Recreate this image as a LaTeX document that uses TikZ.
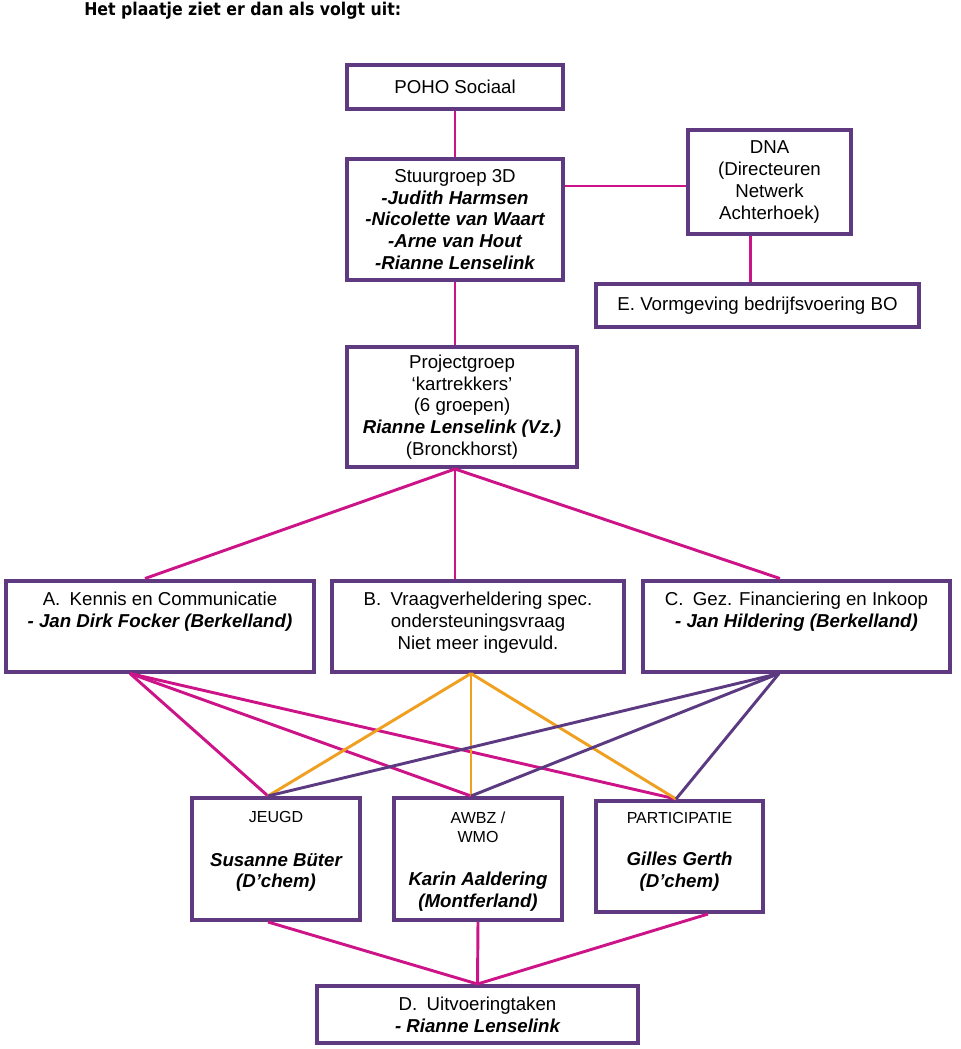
\documentclass[tikz,border=0pt]{standalone}
\usepackage{fontspec}
\usepackage{graphicx}
\setmainfont{Liberation Sans}
\newfontfamily\titlefont{DejaVu Sans}
\definecolor{boxpurple}{RGB}{96,58,128}
\definecolor{linemag}{RGB}{204,20,136}
\definecolor{lineorange}{RGB}{240,160,32}
\definecolor{linepurple}{RGB}{92,58,130}
\newcommand{\ctext}[3]{\parbox[c][#2][c]{#1}{\centering #3}}
\newcommand{\ttext}[4]{\parbox[c][#2][t]{#1}{\centering\vspace*{#3}\strut #4}}
\newcommand{\bi}[1]{{\bfseries\itshape #1}}
\newcommand{\smalltxt}[1]{{\fontsize{12}{14}\selectfont #1}}
\begin{document}
\begin{tikzpicture}[x=0.75pt,y=-0.75pt,
  box/.style={draw=boxpurple, line width=3pt, inner sep=0pt, fill=white,
              font=\fontsize{14}{16.3}\selectfont},
  mag/.style={draw=linemag, line width=2.2pt},
  org/.style={draw=lineorange, line width=2.2pt},
  pur/.style={draw=linepurple, line width=2.2pt}]
\useasboundingbox (0,0) rectangle (960,1049);
\node[anchor=base west, inner sep=0pt, font=\titlefont\bfseries\fontsize{13.2}{15}\selectfont] (title) at (84,15.7) {\scalebox{0.895}[1]{Het plaatje ziet er dan als volgt uit:}};

% boxes
\node[box] (poho) at (455,87) {\ctext{162pt}{33pt}{POHO Sociaal}};
\node[box] (stuur) at (455,219.5) {\ctext{162pt}{90.75pt}{Stuurgroep 3D\\ \bi{-Judith Harmsen}\\ \bi{-Nicolette van Waart}\\ \bi{-Arne van Hout}\\ \bi{-Rianne Lenselink}}};
\node[box] (dna) at (769.5,182) {\ctext{122.25pt}{78pt}{DNA\\ (Directeuren\\ Netwerk\\ Achterhoek)}};
\node[box] (evorm) at (757.5,305.5) {\ctext{242.25pt}{32.25pt}{E. Vormgeving bedrijfsvoering BO}};
\node[box] (proj) at (462,407) {\ctext{172.5pt}{90pt}{Projectgroep\\ ‘kartrekkers’\\ (6 groepen)\\ \bi{Rianne Lenselink (Vz.)}\\ (Bronckhorst)}};
\node[box] (A) at (160,626) {\ttext{231pt}{68.25pt}{7.6pt}{A.\enspace Kennis en Communicatie\\ \bi{- Jan Dirk Focker (Berkelland)}}};
\node[box] (B) at (478,626) {\ttext{219pt}{68.25pt}{7.6pt}{B.\enspace Vraagverheldering spec.\\ ondersteuningsvraag\\ Niet meer ingevuld.}};
\node[box] (C) at (796.5,626) {\ttext{230.25pt}{68.25pt}{7.6pt}{C.\enspace Gez. Financiering en Inkoop\\ \bi{- Jan Hildering (Berkelland)}}};
\node[box] (jeugd) at (276,859) {\ttext{126pt}{91.5pt}{7.1pt}{\smalltxt{JEUGD}\\[16.2pt] \bi{Susanne Büter}\\ \bi{(D’chem)}}};
\node[box] (awbz) at (478,859) {\ttext{126pt}{91.5pt}{7.35pt}{\smalltxt{AWBZ /}\\[-1.6pt] \smalltxt{WMO}\\[15.7pt] \bi{Karin Aaldering}\\ \bi{(Montferland)}}};
\node[box] (part) at (679.5,856.5) {\ttext{125.25pt}{83.25pt}{5.3pt}{\smalltxt{PARTICIPATIE}\\[15.5pt] \bi{Gilles Gerth}\\ \bi{(D’chem)}}};
\node[box] (D) at (477.5,1014.5) {\ctext{240.75pt}{42.75pt}{D.\enspace Uitvoeringtaken\\ \bi{- Rianne Lenselink}}};

% connection points
\coordinate (projS) at ([xshift=-5.25pt]proj.south);
\coordinate (aN) at ([xshift=-11.25pt]A.north);
\coordinate (bN) at ([xshift=-17.25pt]B.north);
\coordinate (cN) at ([xshift=-12.4pt]C.north);
\coordinate (aS) at ([xshift=-22.5pt]A.south);
\coordinate (bS) at ([xshift=-5.25pt]B.south);
\coordinate (cS) at ([xshift=-13.1pt]C.south);
\coordinate (jN) at ([xshift=-6pt]jeugd.north);
\coordinate (wN) at ([xshift=-5.25pt]awbz.north);
\coordinate (pN) at ([xshift=-2.6pt]part.north);
\coordinate (jS) at ([xshift=-6pt]jeugd.south);
\coordinate (wS) at (awbz.south);
\coordinate (pS) at ([xshift=21.4pt]part.south);
\coordinate (dnaS) at ([xshift=-14.6pt]dna.south);
\coordinate (dnaW) at ([yshift=-3pt]dna.west);

% upper connectors
\draw[mag] (poho.south) -- (stuur.north);
\draw[mag] (dnaW) -- (dnaW -| stuur.east);
\draw[mag] (dnaS) -- (dnaS |- evorm.north);
\draw[mag] (stuur.south) -- (stuur.south |- proj.north);
\draw[mag] (projS) -- (aN);
\draw[mag] (projS) -- (bN);
\draw[mag] (projS) -- (cN);

% lower connectors
\draw[mag] (aS) -- (jN);
\draw[mag] (aS) -- (wN);
\draw[mag] (aS) -- (pN);
\draw[org] (bS) -- (jN);
\draw[org] (bS) -- (wN);
\draw[org] (bS) -- (pN);
\draw[pur] (cS) -- (jN);
\draw[pur] (cS) -- (wN);
\draw[pur] (cS) -- (pN);

% to D
\draw[mag] (jS) -- (D.north);
\draw[mag] (wS) -- (D.north);
\draw[mag] (pS) -- (D.north);
\end{tikzpicture}
\end{document}
